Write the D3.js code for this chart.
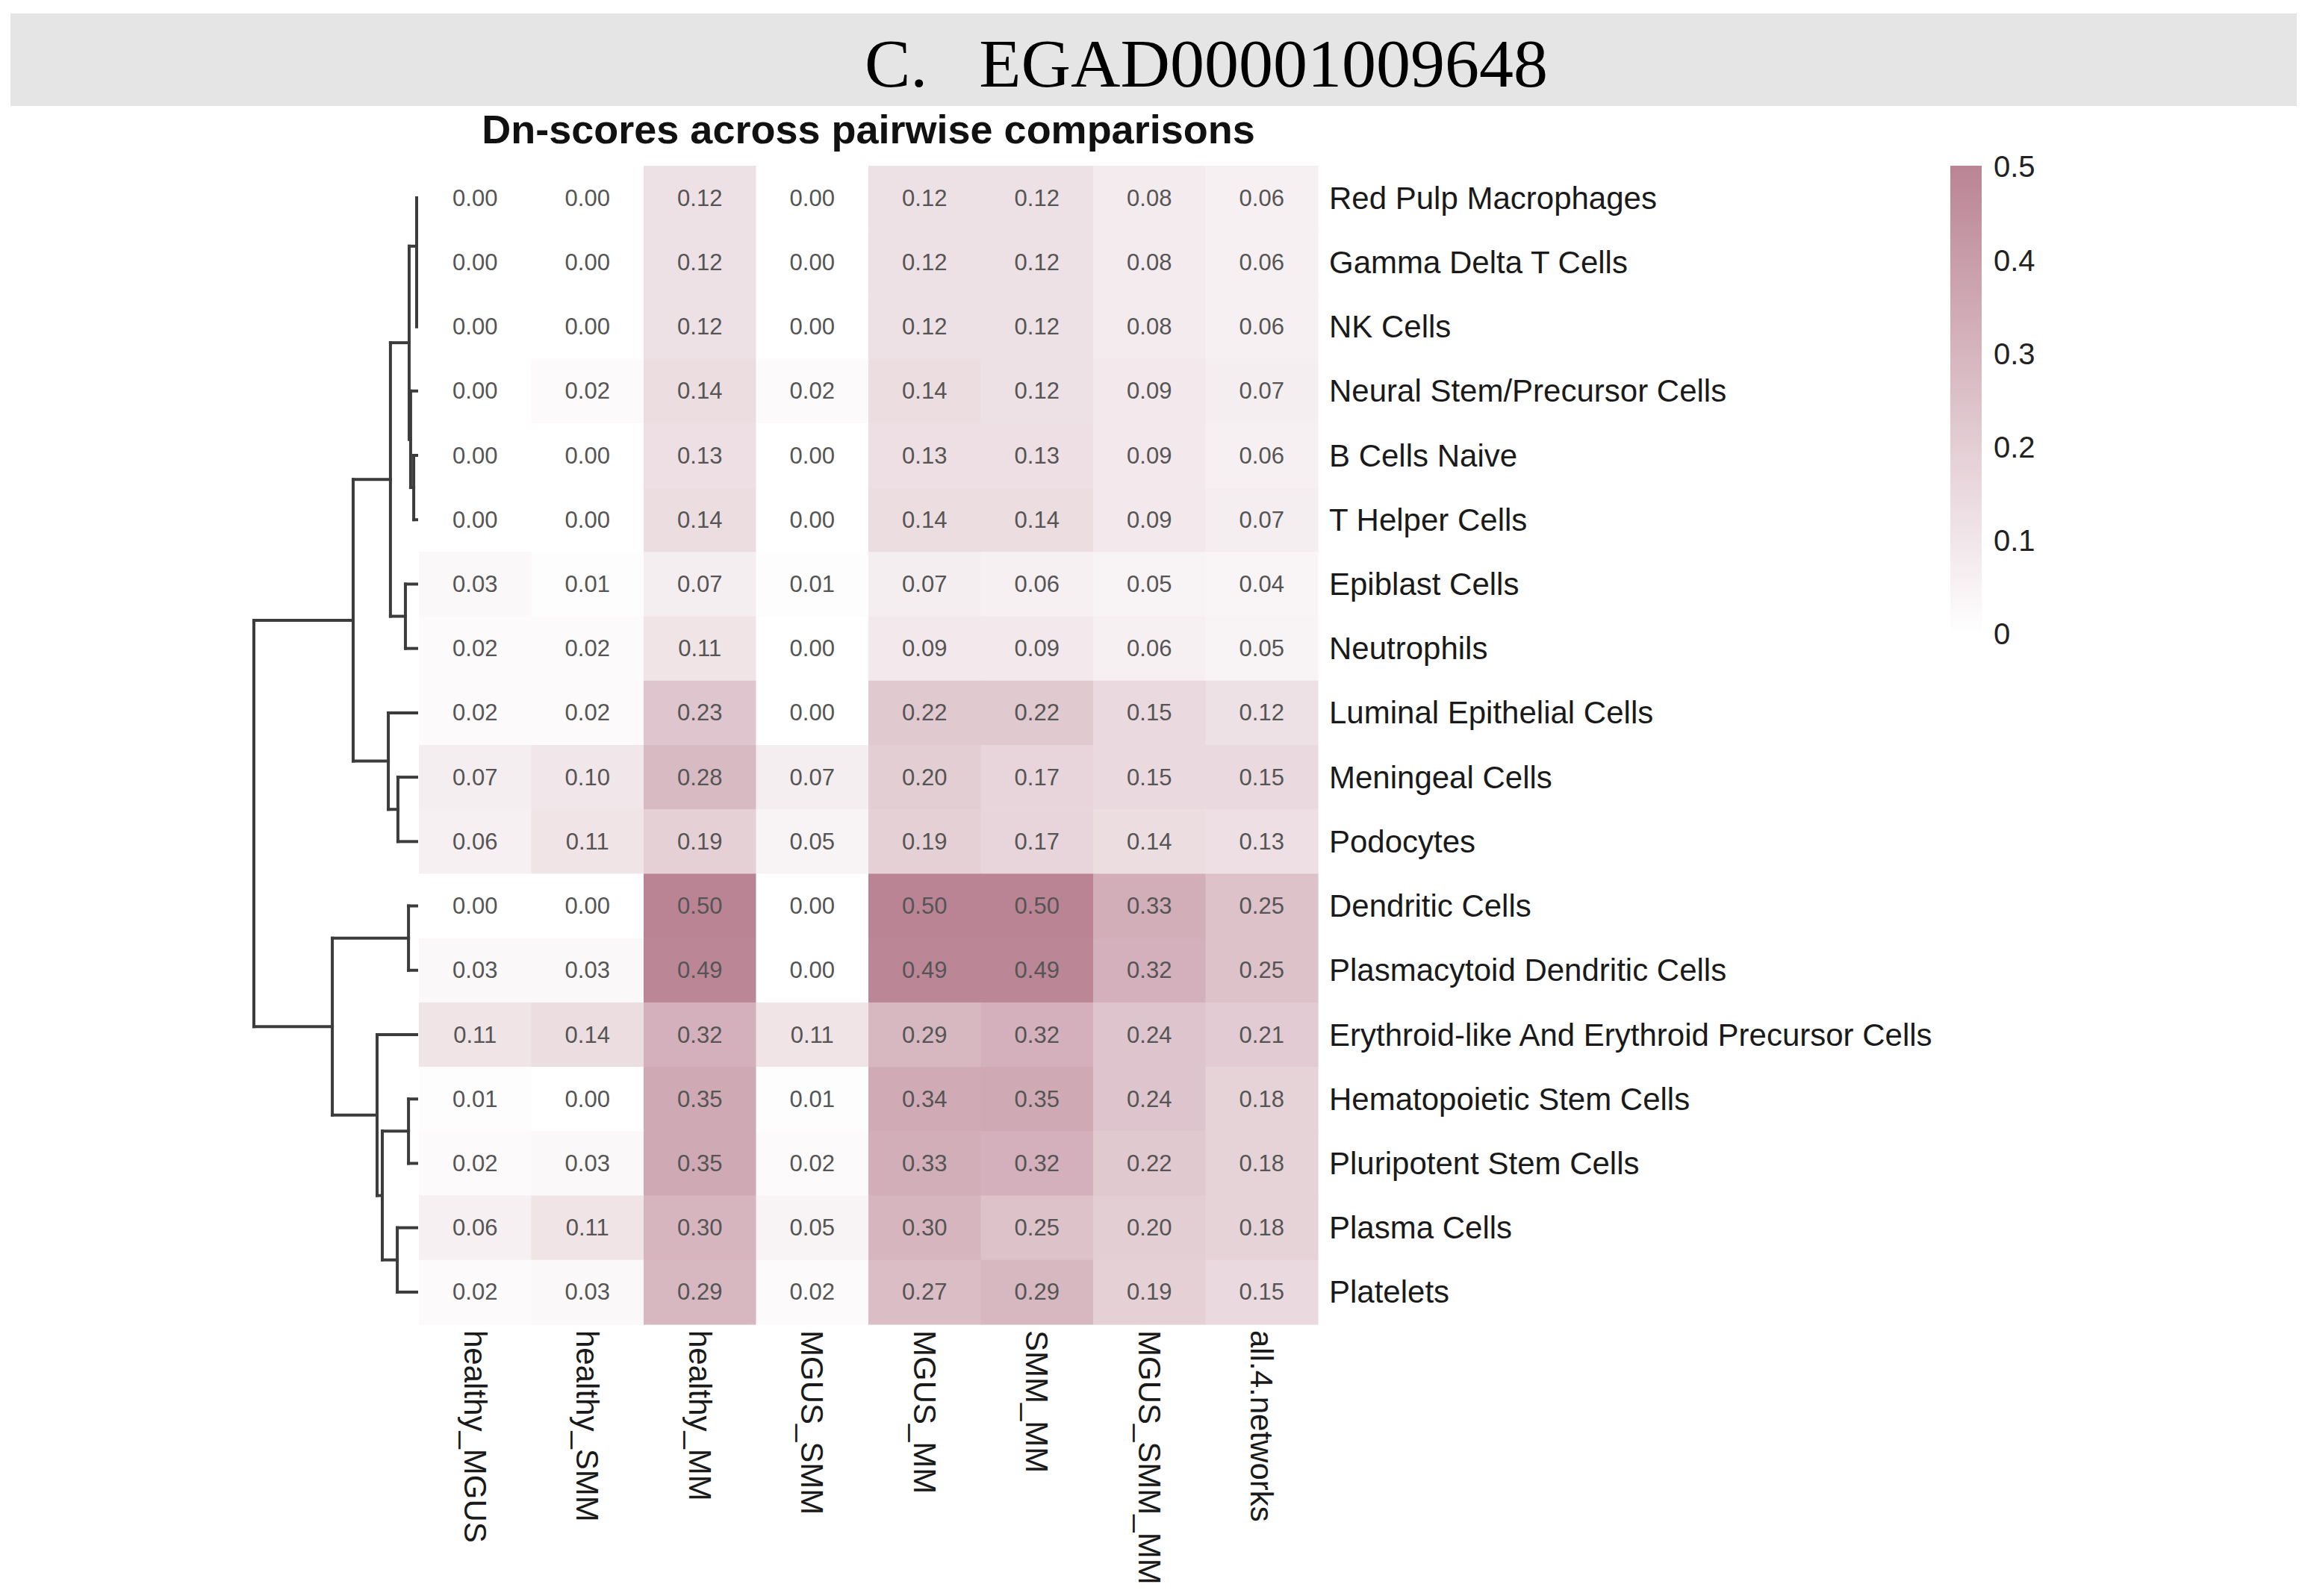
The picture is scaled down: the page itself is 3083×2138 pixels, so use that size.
<!DOCTYPE html>
<html>
<head>
<meta charset="utf-8">
<script src="https://cdn.jsdelivr.net/npm/d3@7"></script>
<style>
  body { margin: 0; background: #fff; }
  text { font-family: "Liberation Sans", Arial, sans-serif; }
</style>
</head>
<body>
<svg id="chart" width="3083" height="2138"></svg>
<script>
// row (cell type) labels, top to bottom as in the clustered heatmap
var rowLabels = ["Red Pulp Macrophages", "Gamma Delta T Cells", "NK Cells",
  "Neural Stem/Precursor Cells", "B Cells Naive", "T Helper Cells", "Epiblast Cells",
  "Neutrophils", "Luminal Epithelial Cells", "Meningeal Cells", "Podocytes",
  "Dendritic Cells", "Plasmacytoid Dendritic Cells",
  "Erythroid-like And Erythroid Precursor Cells", "Hematopoietic Stem Cells",
  "Pluripotent Stem Cells", "Plasma Cells", "Platelets"];

var colLabels = ["healthy_MGUS", "healthy_SMM", "healthy_MM", "MGUS_SMM",
  "MGUS_MM", "SMM_MM", "MGUS_SMM_MM", "all.4.networks"];

// Dn-scores, one array per comparison (same row order as rowLabels)
var healthy_MGUS = [0.00, 0.00, 0.00, 0.00, 0.00, 0.00, 0.03, 0.02, 0.02, 0.07, 0.06, 0.00, 0.03, 0.11, 0.01, 0.02, 0.06, 0.02];
var healthy_SMM  = [0.00, 0.00, 0.00, 0.02, 0.00, 0.00, 0.01, 0.02, 0.02, 0.10, 0.11, 0.00, 0.03, 0.14, 0.00, 0.03, 0.11, 0.03];
var healthy_MM   = [0.12, 0.12, 0.12, 0.14, 0.13, 0.14, 0.07, 0.11, 0.23, 0.28, 0.19, 0.50, 0.49, 0.32, 0.35, 0.35, 0.30, 0.29];
var MGUS_SMM     = [0.00, 0.00, 0.00, 0.02, 0.00, 0.00, 0.01, 0.00, 0.00, 0.07, 0.05, 0.00, 0.00, 0.11, 0.01, 0.02, 0.05, 0.02];
var MGUS_MM      = [0.12, 0.12, 0.12, 0.14, 0.13, 0.14, 0.07, 0.09, 0.22, 0.20, 0.19, 0.50, 0.49, 0.29, 0.34, 0.33, 0.30, 0.27];
var SMM_MM       = [0.12, 0.12, 0.12, 0.12, 0.13, 0.14, 0.06, 0.09, 0.22, 0.17, 0.17, 0.50, 0.49, 0.32, 0.35, 0.32, 0.25, 0.29];
var MGUS_SMM_MM  = [0.08, 0.08, 0.08, 0.09, 0.09, 0.09, 0.05, 0.06, 0.15, 0.15, 0.14, 0.33, 0.32, 0.24, 0.24, 0.22, 0.20, 0.19];
var all4networks = [0.06, 0.06, 0.06, 0.07, 0.06, 0.07, 0.04, 0.05, 0.12, 0.15, 0.13, 0.25, 0.25, 0.21, 0.18, 0.18, 0.18, 0.15];

// row dendrogram, hclust style: negative = leaf (1-based row), positive = earlier merge
var mergeLeft  = [-2, -1, -5, -4, 2, -7, -10, 5, -9,  8, -12, -15, -17, 12, -14, 11, 10];
var mergeRight = [-3,  1, -6,  3, 4, -8, -11, 6,  7,  9, -13, -16, -18, 13,  14, 15, 16];
var mergeHeight = [0, 0, 0.018, 0.037, 0.046, 0.069, 0.115, 0.161, 0.174, 0.39,
  0.05, 0.05, 0.119, 0.211, 0.243, 0.518, 1.0];

var legendTicks = [0, 0.1, 0.2, 0.3, 0.4, 0.5];

var columns = [healthy_MGUS, healthy_SMM, healthy_MM, MGUS_SMM, MGUS_MM, SMM_MM, MGUS_SMM_MM, all4networks];

var cells = [];
rowLabels.forEach(function(r, i) {
  colLabels.forEach(function(c, j) {
    cells.push({row: r, col: c, value: columns[j][i]});
  });
});

var svg = d3.select("#chart");

// title band
svg.append("rect")
  .attr("x", 14).attr("y", 18).attr("width", 3062).attr("height", 124)
  .attr("fill", "#e5e5e5");
svg.append("text")
  .attr("x", 1158).attr("y", 116)
  .style("font-family", "'Liberation Serif', 'Times New Roman', serif")
  .style("font-size", "92px")
  .style("white-space", "pre")
  .attr("fill", "#000")
  .text("C.\u00a0\u00a0\u00a0EGAD00001009648");

var x = d3.scaleBand().domain(colLabels).range([561, 1765]);
var y = d3.scaleBand().domain(rowLabels).range([222, 1774]);
var color = d3.scaleLinear().domain([0, 0.5]).range(["#ffffff", "#ba8494"]).clamp(true);

svg.append("text")
  .attr("x", (561 + 1765) / 2).attr("y", 192)
  .attr("text-anchor", "middle")
  .style("font-size", "54px").style("font-weight", "bold")
  .attr("fill", "#111")
  .text("Dn-scores across pairwise comparisons");

// cells
var heat = svg.append("g");
heat.selectAll("rect")
  .data(cells)
  .enter()
  .append("rect")
  .attr("x", function(d) { return x(d.col); })
  .attr("y", function(d) { return y(d.row); })
  .attr("width", x.bandwidth() + 0.6)
  .attr("height", y.bandwidth() + 0.6)
  .attr("fill", function(d) { return color(d.value); });

heat.selectAll("text")
  .data(cells)
  .enter()
  .append("text")
  .attr("x", function(d) { return x(d.col) + x.bandwidth() / 2; })
  .attr("y", function(d) { return y(d.row) + y.bandwidth() / 2; })
  .attr("text-anchor", "middle")
  .attr("dominant-baseline", "central")
  .style("font-size", "31px")
  .attr("fill", "#555")
  .text(function(d) { return d3.format(".2f")(d.value); });

// row labels
svg.append("g").selectAll("text")
  .data(rowLabels)
  .enter()
  .append("text")
  .attr("x", 1780)
  .attr("y", function(d) { return y(d) + y.bandwidth() / 2; })
  .attr("dominant-baseline", "central")
  .style("font-size", "42px")
  .attr("fill", "#1a1a1a")
  .text(function(d) { return d; });

// column labels (rotated)
svg.append("g").selectAll("text")
  .data(colLabels)
  .enter()
  .append("text")
  .attr("transform", function(d) {
    return "translate(" + (x(d) + x.bandwidth() / 2) + ",1782) rotate(90)";
  })
  .attr("dominant-baseline", "central")
  .style("font-size", "42px")
  .attr("fill", "#1a1a1a")
  .text(function(d) { return d; });

// dendrogram
function buildNode(k) {
  if (k < 0) return {leaf: rowLabels[-k - 1], height: 0};
  return {height: mergeHeight[k - 1],
    children: [buildNode(mergeLeft[k - 1]), buildNode(mergeRight[k - 1])]};
}
var root = d3.hierarchy(buildNode(mergeHeight.length));
var hx = d3.scaleLinear().domain([0, 1]).range([558, 340]);

root.eachAfter(function(n) {
  if (!n.children) n.py = y(n.data.leaf) + y.bandwidth() / 2;
  else n.py = d3.mean(n.children, function(c) { return c.py; });
});

var links = [];
root.each(function(n) {
  if (!n.children) return;
  var xp = hx(n.data.height);
  links.push([[xp, n.children[0].py], [xp, n.children[1].py]]);
  n.children.forEach(function(c) {
    links.push([[xp, c.py], [hx(c.data.height), c.py]]);
  });
});

svg.append("g").selectAll("path")
  .data(links)
  .enter()
  .append("path")
  .attr("d", d3.line())
  .attr("fill", "none")
  .attr("stroke", "#3c3c3c")
  .attr("stroke-width", 4)
  .attr("stroke-linecap", "square");

// legend
var legTop = 222, legBottom = 850;
var ly = d3.scaleLinear().domain([0, 0.5]).range([legBottom, legTop + 2]);
var grad = svg.append("defs").append("linearGradient")
  .attr("id", "leg").attr("x1", 0).attr("y1", 1).attr("x2", 0).attr("y2", 0);
grad.selectAll("stop")
  .data(legendTicks)
  .enter()
  .append("stop")
  .attr("offset", function(d) { return d / 0.5; })
  .attr("stop-color", function(d) { return color(d); });

svg.append("rect")
  .attr("x", 2612).attr("y", legTop)
  .attr("width", 42).attr("height", legBottom - legTop)
  .attr("fill", "url(#leg)");

var legAxis = svg.append("g")
  .attr("transform", "translate(2654,0)")
  .call(d3.axisRight(ly).tickValues(legendTicks).tickSize(0).tickPadding(16)
    .tickFormat(function(d) { return d === 0 ? "0" : d3.format(".1f")(d); }));
legAxis.select(".domain").remove();
legAxis.selectAll("text")
  .style("font-size", "40px")
  .style("font-family", "'Liberation Sans', Arial, sans-serif")
  .attr("fill", "#222");
</script>
</body>
</html>
